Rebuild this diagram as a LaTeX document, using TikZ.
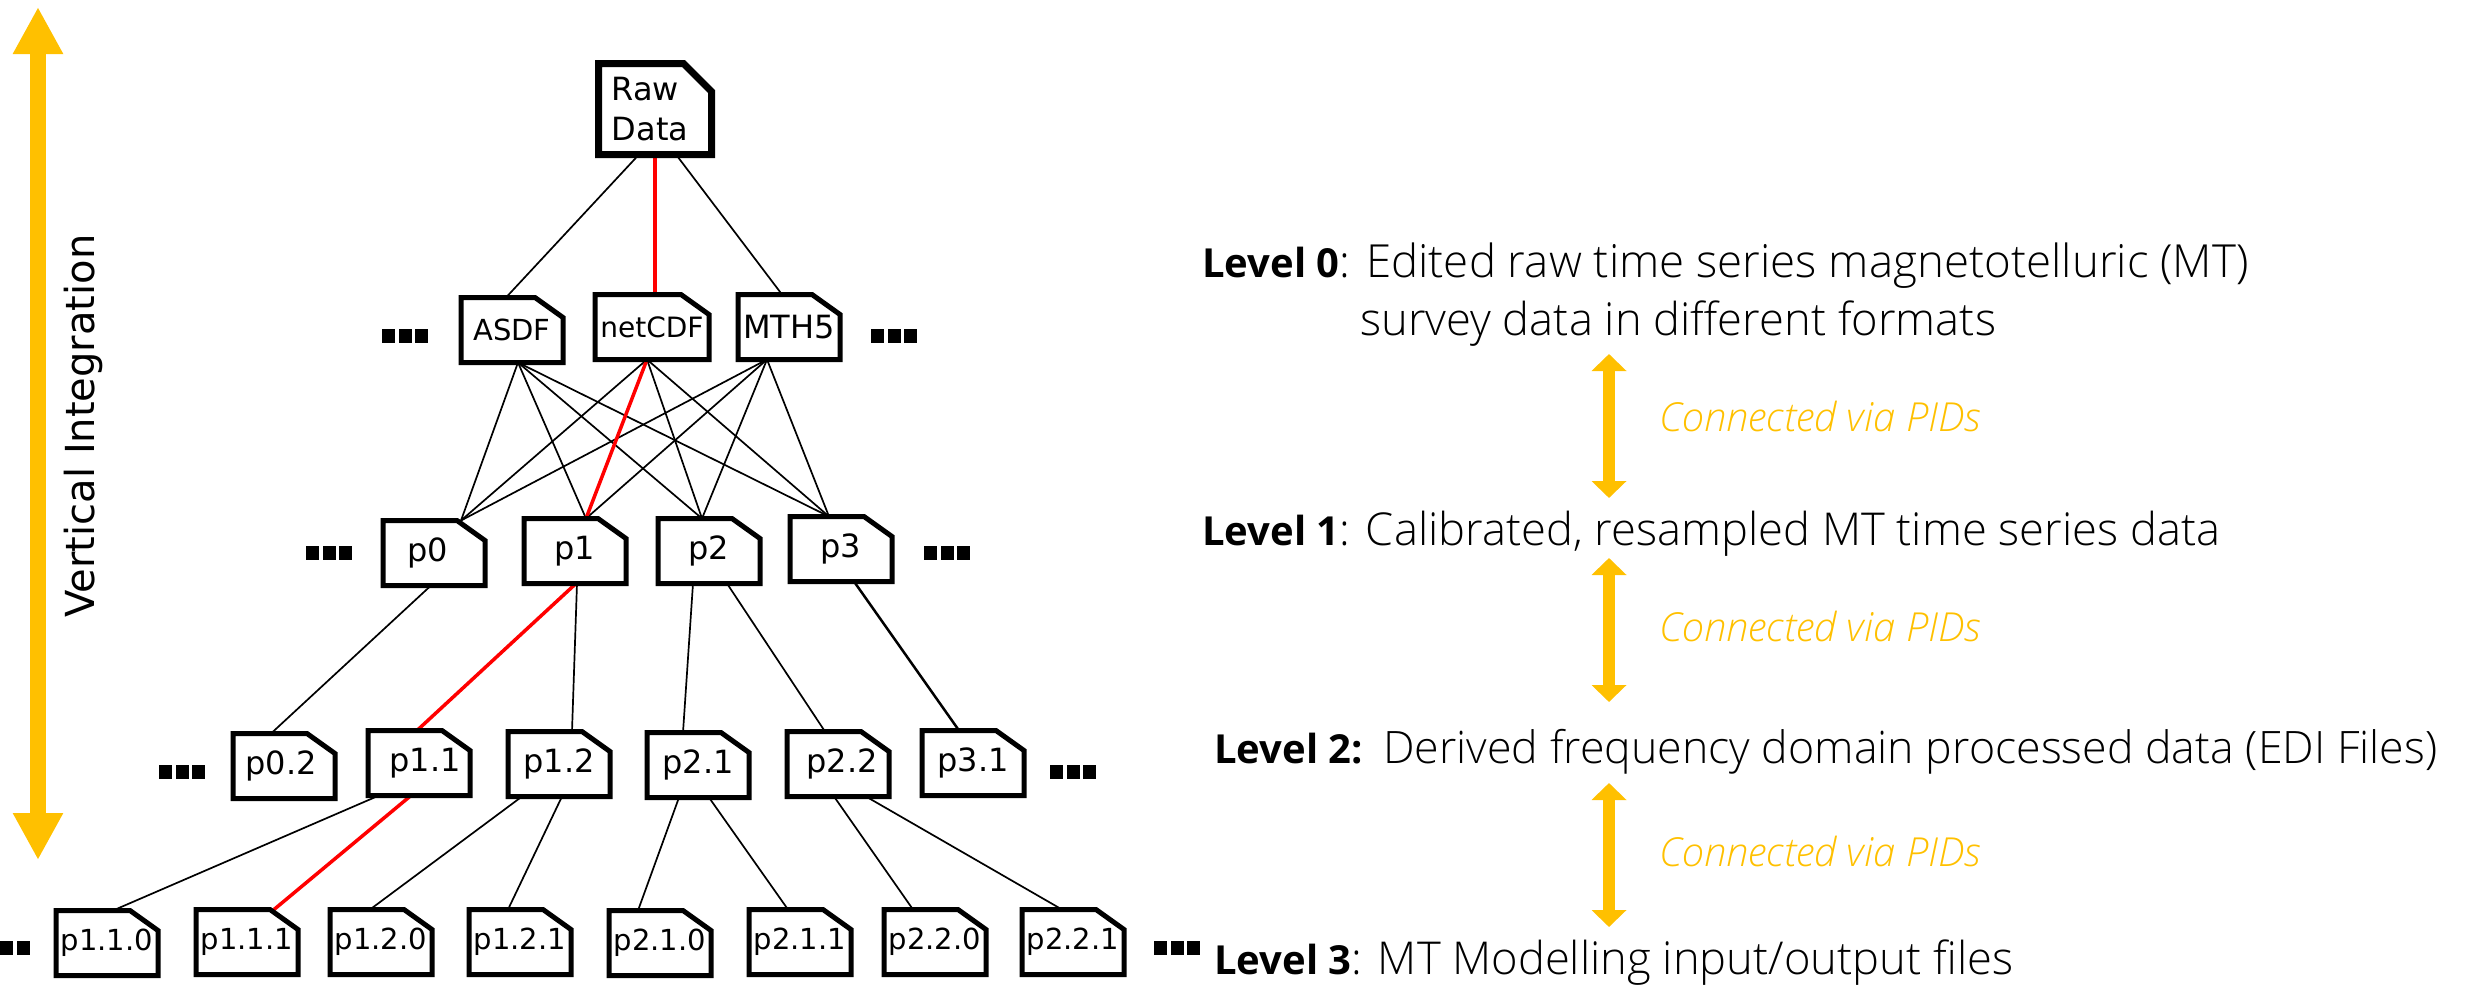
\documentclass[tikz,border=0pt]{standalone}
\usepackage{fontspec}
\setmainfont{Open Sans Light}[BoldFont={Open Sans Bold},ItalicFont={Open Sans Light Italic}]
\newfontfamily\docfont{DejaVu Sans}
\usetikzlibrary{arrows.meta}
\pgfdeclarelayer{bg}
\pgfsetlayers{bg,main}
\definecolor{pidyellow}{HTML}{FFC000}
\newcommand{\levelname}[1]{{\fontsize{40}{48}\selectfont\bfseries #1}}
\tikzset{
    docnode/.style={rectangle, inner sep=0pt, outer sep=0pt,
        minimum width=102pt, minimum height=65pt, align=left,
        font=\docfont\fontsize{32}{40}\selectfont,
        append after command={\pgfextra{\let\docname\tikzlastnode
            \draw [line width=5pt]
                (\docname.north west) -- ([xshift=-28pt]\docname.north east)
                -- ([yshift=-20pt]\docname.north east) -- (\docname.south east)
                -- (\docname.south west) -- cycle;}}},
    smalltext/.style={font=\docfont\fontsize{29}{36}\selectfont},
    rawnode/.style={rectangle, inner sep=0pt, outer sep=0pt,
        minimum width=113pt, minimum height=91pt, align=left,
        font=\docfont\fontsize{32}{40}\selectfont,
        append after command={\pgfextra{\let\docname\tikzlastnode
            \draw [line width=7pt]
                (\docname.north west) -- ([xshift=-28pt]\docname.north east)
                -- ([yshift=-28pt]\docname.north east) -- (\docname.south east)
                -- (\docname.south west) -- cycle;}}},
    dotbox/.style={rectangle, fill=black, inner sep=0pt, outer sep=0pt,
        minimum width=13pt, minimum height=14pt},
    leveltext/.style={anchor=base west, inner sep=0pt, font=\fontsize{45.3}{54}\selectfont},
    pidtext/.style={anchor=base west, inner sep=0pt, text=pidyellow,
        font=\itshape\fontsize{40}{48}\selectfont},
    pidarrow/.style={draw=pidyellow, line width=12pt,
        {Triangle[length=17pt,width=34pt]}-{Triangle[length=17pt,width=34pt]}},
    edgeline/.style={line width=1.7pt},
    rededge/.style={draw=red, line width=3.5pt}
}

\begin{document}
\begin{tikzpicture}[x=1pt, y=-1pt]
    \useasboundingbox (0,0) rectangle (2465,986);

    \node (raw) [rawnode] at (655, 109) {\hspace*{-10pt}Raw\\\hspace*{-10pt}Data};

    \node (asdf) [docnode, smalltext] at (512, 330) {ASDF};
    \node (netcdf) [docnode, minimum width=114pt, font=\docfont\fontsize{28}{34}\selectfont] at (652, 327) {netCDF};
    \node (mth5) [docnode] at (789, 327) {MTH5};

    \node (p0) [docnode] at (434, 553) {\hspace*{-12pt}p0};
    \node (p1) [docnode] at (575, 551) {p1};
    \node (p2) [docnode] at (709, 551) {p2};
    \node (p3) [docnode] at (841, 549) {p3};

    \node (p02) [docnode] at (284, 766) {\hspace*{-6pt}p0.2};
    \node (p11) [docnode] at (419, 763) {\hspace*{12pt}p1.1};
    \node (p12) [docnode] at (559, 764) {p1.2};
    \node (p21) [docnode] at (698, 765) {p2.1};
    \node (p22) [docnode] at (838, 764) {\hspace*{8pt}p2.2};
    \node (p31) [docnode] at (973, 763) {p3.1};

    \node (p110) [docnode, smalltext] at (107, 943) {p1.1.0};
    \node (p111) [docnode, smalltext] at (247, 942) {p1.1.1};
    \node (p120) [docnode, smalltext] at (381, 942) {p1.2.0};
    \node (p121) [docnode, smalltext] at (520, 942) {p1.2.1};
    \node (p210) [docnode, smalltext] at (660, 943) {p2.1.0};
    \node (p211) [docnode, smalltext] at (800, 942) {p2.1.1};
    \node (p220) [docnode, smalltext] at (935, 942) {p2.2.0};
    \node (p221) [docnode, smalltext] at (1073, 942) {p2.2.1};

    \foreach \x/\y in {405/336, 894/336, 329/553, 947/553, 182/772, 1073/772, 1177/948} {
        \node (dl\x) [dotbox] at (\x-16.5, \y) {};
        \node (dm\x) [dotbox] at (\x, \y) {};
        \node (dr\x) [dotbox] at (\x+16.5, \y) {};
    }
    \node (de1) [dotbox] at (6.5, 948) {};
    \node (de2) [dotbox] at (23, 948) {};

    \begin{pgfonlayer}{bg}
        \draw [edgeline] ([xshift=-16]raw.south) -- ([xshift=-6]asdf.north);
        \draw [rededge] (raw.south) -- (netcdf.north -| raw.south);
        \draw [edgeline] ([xshift=21]raw.south) -- ([xshift=-7]mth5.north);

        \draw [edgeline] ([xshift=6]asdf.south) -- ([xshift=27]p0.north);
        \draw [edgeline] ([xshift=6]asdf.south) -- ([xshift=11]p1.north);
        \draw [edgeline] ([xshift=6]asdf.south) -- ([xshift=-7]p2.north);
        \draw [edgeline] ([xshift=6]asdf.south) -- ([xshift=-12]p3.north);
        \draw [edgeline] ([xshift=-5]netcdf.south) -- ([xshift=27]p0.north);
        \draw [edgeline] ([xshift=-5]netcdf.south) -- ([xshift=-7]p2.north);
        \draw [edgeline] ([xshift=-5]netcdf.south) -- ([xshift=-12]p3.north);
        \draw [edgeline] ([xshift=-22]mth5.south) -- ([xshift=27]p0.north);
        \draw [edgeline] ([xshift=-22]mth5.south) -- ([xshift=11]p1.north);
        \draw [edgeline] ([xshift=-22]mth5.south) -- ([xshift=-7]p2.north);
        \draw [edgeline] ([xshift=-22]mth5.south) -- ([xshift=-12]p3.north);
        \draw [rededge] ([xshift=-5]netcdf.south) -- ([xshift=11]p1.north);

        \draw [edgeline] ([xshift=-3]p0.south) -- ([xshift=-13]p02.north);
        \draw [rededge] ([xshift=1]p1.south) -- ([xshift=-2]p11.north);
        \draw [edgeline] ([xshift=2]p1.south) -- ([xshift=13]p12.north);
        \draw [edgeline] ([xshift=-16]p2.south) -- ([xshift=-15]p21.north);
        \draw [edgeline] ([xshift=18]p2.south) -- ([xshift=-13]p22.north);
        \draw [edgeline, line width=2.5pt] ([xshift=13]p3.south) -- ([xshift=-14]p31.north);

        \draw [edgeline] ([xshift=-40]p11.south) -- ([xshift=6]p110.north);
        \draw [rededge] ([xshift=-8]p11.south) -- ([xshift=27]p111.north);
        \draw [edgeline] ([xshift=-37]p12.south) -- ([xshift=-11]p120.north);
        \draw [edgeline] ([xshift=3]p12.south) -- ([xshift=-12]p121.north);
        \draw [edgeline] ([xshift=-19]p21.south) -- ([xshift=-22]p210.north);
        \draw [edgeline] ([xshift=11]p21.south) -- ([xshift=-12]p211.north);
        \draw [edgeline] ([xshift=-4]p22.south) -- ([xshift=-22]p220.north);
        \draw [edgeline] ([xshift=28]p22.south) -- ([xshift=-11]p221.north);
    \end{pgfonlayer}

    % vertical arrow
    \coordinate (vtop) at (38, 7);
    \coordinate (vbot) at (38, 860);
    \draw [draw=pidyellow, line width=16pt,
        {Triangle[length=47pt,width=47pt]}-{Triangle[length=47pt,width=47pt]}] (vtop) -- (vbot);
    \node (vlabel) [rotate=90, anchor=base, inner sep=0pt, font=\docfont\fontsize{40}{48}\selectfont] at (94, 426) {Vertical Integration};

    % levels
    \node (l0a) [leveltext, font=\fontsize{45.6}{54}\selectfont] at (1202, 277) {\levelname{Level 0}: Edited raw time series magnetotelluric (MT)};
    \node (l0b) [leveltext] at (1360, 335) {survey data in different formats};
    \node (l1) [leveltext] at (1202, 545) {\levelname{Level 1}: Calibrated, resampled MT time series data};
    \node (l2) [leveltext, font=\fontsize{44.7}{54}\selectfont] at (1214, 763) {\levelname{Level 2:}\hspace{5pt} Derived frequency domain processed data (EDI Files)};
    \node (l3) [leveltext] at (1214, 974) {\levelname{Level 3}: MT Modelling input/output files};

    \coordinate (a1t) at (1609, 354);
    \coordinate (a1b) at (1609, 498);
    \coordinate (a2t) at (1609, 558);
    \coordinate (a2b) at (1609, 702);
    \coordinate (a3t) at (1609, 783);
    \coordinate (a3b) at (1609, 927);
    \draw [pidarrow] (a1t) -- (a1b);
    \draw [pidarrow] (a2t) -- (a2b);
    \draw [pidarrow] (a3t) -- (a3b);
    \node (c1) [pidtext] at (1659, 431) {Connected via PIDs};
    \node (c2) [pidtext] at (1659, 641) {Connected via PIDs};
    \node (c3) [pidtext] at (1659, 866) {Connected via PIDs};
\end{tikzpicture}
\end{document}
